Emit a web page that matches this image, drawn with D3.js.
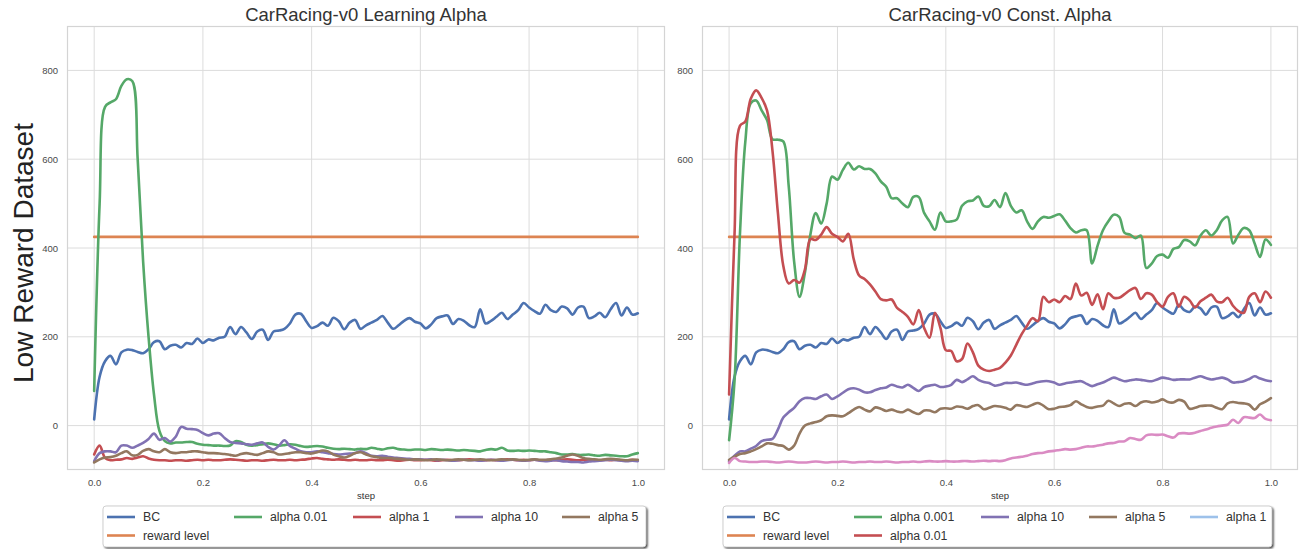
<!DOCTYPE html>
<html>
<head>
<meta charset="utf-8">
<script src="https://cdn.jsdelivr.net/npm/d3@7"></script>
<style>
  html, body { margin: 0; padding: 0; background: #ffffff; }
  svg { display: block; }
  text { font-family: "Liberation Sans", Arial, sans-serif; }
</style>
</head>
<body>
<svg id="chart" width="1307" height="549"></svg>
<script>
// ---- data ---------------------------------------------------------------
// normalised training step, sampled every 0.01
const steps = d3.range(0, 101).map(i => i / 100);

const yTicks = [0, 200, 400, 600, 800];
const xTicks = [0, 0.2, 0.4, 0.6, 0.8, 1.0];

const rewardLevel = 425;

// behaviour cloning baseline (same run in both panels)
const bc = [14,110,145,157,138,165,171,170,166,163,172,188,190,172,180,182,176,186,184,196,
  186,194,192,198,200,222,206,222,210,195,212,216,193,212,214,218,230,250,252,235,
  220,224,232,225,243,235,217,232,238,218,226,232,238,247,232,218,226,236,242,234,
  230,219,228,242,246,248,229,240,236,226,222,262,230,236,245,254,240,250,260,276,
  266,258,252,272,260,256,268,264,250,266,268,242,246,254,244,262,276,248,266,250,253];

// learning-alpha runs
const learnAlpha001 = [78,500,718,728,735,765,780,776,600,370,200,70,-12,-35,-40,-38,-38,-37,-37,-41,
  -43,-44,-45,-45,-46,-45,-35,-37,-43,-45,-44,-42,-40,-42,-45,-44,-42,-43,-46,-48,
  -47,-46,-47,-50,-52,-53,-52,-53,-54,-52,-53,-50,-52,-54,-51,-50,-53,-54,-55,-54,
  -54,-55,-53,-54,-55,-54,-55,-56,-55,-56,-57,-58,-55,-53,-54,-50,-56,-57,-56,-57,
  -56,-57,-58,-58,-60,-62,-65,-65,-64,-66,-66,-65,-67,-68,-66,-67,-68,-69,-69,-65,-62];
const learnAlpha1 = [-65,-45,-73,-78,-77,-76,-73,-75,-72,-69,-74,-77,-78,-78,-79,-78,-78,-79,-78,-77,
  -78,-77,-78,-78,-77,-76,-77,-78,-79,-78,-78,-79,-78,-77,-78,-78,-77,-78,-77,-76,
  -74,-73,-75,-76,-77,-76,-77,-78,-77,-78,-78,-77,-78,-78,-77,-78,-79,-78,-77,-78,
  -78,-77,-78,-79,-78,-77,-78,-78,-77,-76,-77,-78,-78,-77,-78,-77,-76,-77,-78,-77,
  -78,-77,-78,-78,-77,-78,-77,-76,-77,-78,-77,-78,-77,-78,-77,-78,-77,-78,-78,-77,-78];
const learnAlpha10 = [-80,-62,-58,-58,-60,-45,-45,-50,-45,-39,-30,-18,-32,-28,-36,-25,-3,-7,-8,-10,
  -17,-22,-18,-17,-28,-37,-39,-40,-42,-43,-40,-38,-48,-54,-45,-33,-46,-52,-58,-60,
  -60,-58,-60,-62,-64,-65,-64,-63,-62,-58,-62,-68,-69,-68,-70,-72,-73,-74,-75,-76,
  -76,-77,-76,-78,-77,-78,-79,-78,-77,-78,-78,-79,-78,-77,-78,-79,-78,-77,-78,-79,
  -78,-77,-79,-80,-79,-78,-80,-81,-82,-82,-83,-81,-80,-79,-78,-77,-78,-79,-80,-79,-80];
const learnAlpha5 = [-83,-76,-72,-71,-68,-62,-58,-67,-66,-57,-53,-58,-60,-53,-60,-62,-60,-60,-58,-58,
  -60,-62,-62,-63,-64,-66,-68,-64,-62,-64,-66,-62,-58,-60,-65,-64,-62,-60,-60,-62,
  -63,-60,-56,-58,-65,-69,-72,-68,-62,-60,-65,-69,-71,-73,-73,-74,-75,-76,-77,-76,
  -77,-78,-77,-76,-77,-78,-77,-76,-77,-78,-77,-76,-77,-78,-77,-76,-77,-76,-77,-78,
  -77,-76,-77,-77,-76,-74,-72,-68,-65,-68,-73,-75,-76,-77,-76,-75,-76,-77,-78,-77,-77];

// constant-alpha runs
const constAlpha0001 = [-33,100,430,640,726,732,710,688,645,644,640,540,370,290,345,430,479,455,500,561,
  554,576,592,577,584,578,578,568,550,538,512,512,500,492,515,515,479,460,441,480,
  460,460,464,495,505,507,516,495,494,508,492,524,495,480,485,460,443,460,470,468,
  472,476,462,445,435,440,440,365,405,440,460,475,470,434,430,422,428,355,365,382,
  385,378,398,402,418,415,406,428,440,428,440,462,470,410,430,445,440,410,380,419,407];
const constAlpha001 = [70,430,675,685,736,755,738,710,620,480,360,320,328,322,352,420,418,430,447,432,
  425,415,432,375,338,330,318,302,285,282,284,265,256,245,228,260,220,198,254,220,
  170,168,145,150,185,165,135,126,123,126,130,142,158,182,206,225,242,235,290,278,
  284,278,292,285,320,293,299,272,296,262,298,288,288,296,305,310,285,298,295,278,
  268,290,298,268,290,282,266,280,288,295,280,278,288,270,258,254,290,298,278,302,288];
const constAlpha10 = [-80,-68,-58,-58,-52,-46,-35,-32,-30,-9,18,30,40,55,62,62,60,66,70,60,
  66,74,82,84,81,75,75,80,84,86,92,88,86,92,85,78,87,90,92,87,
  88,92,103,98,104,111,103,98,96,90,92,96,96,97,94,92,95,98,100,100,
  97,92,95,97,99,100,94,89,93,97,103,108,104,100,102,104,103,101,100,104,
  108,106,103,104,104,104,108,111,107,104,106,108,104,97,98,100,105,111,106,102,100];
const constAlpha5 = [-77,-70,-64,-62,-58,-53,-47,-40,-41,-44,-46,-54,-45,-18,0,5,8,12,21,23,
  22,21,28,36,42,36,32,41,38,33,36,32,30,36,30,26,34,34,30,38,
  39,38,43,42,38,44,46,37,40,44,43,40,36,46,44,42,47,51,45,37,
  38,42,43,46,55,48,42,40,43,45,56,50,44,49,50,44,52,55,52,54,
  59,53,52,58,54,38,40,44,45,45,40,37,50,53,51,50,47,36,48,54,62];
const constAlpha1 = [-84,-73,-80,-81,-82,-82,-81,-81,-82,-83,-82,-81,-82,-83,-83,-82,-81,-82,-83,-82,
  -82,-81,-82,-83,-82,-82,-81,-82,-82,-81,-82,-83,-82,-82,-81,-82,-81,-80,-81,-81,
  -80,-81,-81,-80,-80,-81,-80,-79,-80,-79,-80,-78,-74,-72,-70,-68,-64,-62,-61,-58,
  -57,-55,-53,-54,-53,-50,-47,-47,-45,-43,-40,-39,-36,-35,-28,-30,-32,-22,-20,-21,
  -20,-24,-27,-18,-17,-18,-16,-12,-9,-5,-2,0,2,13,6,19,18,17,25,15,12];

const colors = {
  bc: "#4C72B0", reward: "#DD8452", green: "#55A868", red: "#C44E52",
  purple: "#8172B3", brown: "#937860", pink: "#DA8BC3", lightBlue: "#9DC1EA"
};

// ---- panels -------------------------------------------------------------
const panels = [
  {
    title: "CarRacing-v0 Learning Alpha",
    box: { left: 67, right: 665, top: 26, bottom: 470 },
    series: [
      { values: bc, color: colors.bc },
      { values: steps.map(() => rewardLevel), color: colors.reward },
      { values: learnAlpha001, color: colors.green },
      { values: learnAlpha1, color: colors.red },
      { values: learnAlpha10, color: colors.purple },
      { values: learnAlpha5, color: colors.brown }
    ],
    legend: {
      box: { x: 103, y: 506, w: 543, h: 41 },
      items: [
        { label: "BC", color: colors.bc, x: 107, row: 0 },
        { label: "reward level", color: colors.reward, x: 107, row: 1 },
        { label: "alpha 0.01", color: colors.green, x: 234, row: 0 },
        { label: "alpha 1", color: colors.red, x: 353, row: 0 },
        { label: "alpha 10", color: colors.purple, x: 455, row: 0 },
        { label: "alpha 5", color: colors.brown, x: 562, row: 0 }
      ]
    }
  },
  {
    title: "CarRacing-v0 Const. Alpha",
    box: { left: 702, right: 1298, top: 26, bottom: 470 },
    series: [
      { values: bc, color: colors.bc },
      { values: steps.map(() => rewardLevel), color: colors.reward },
      { values: constAlpha0001, color: colors.green },
      { values: constAlpha001, color: colors.red },
      { values: constAlpha10, color: colors.purple },
      { values: constAlpha5, color: colors.brown },
      { values: constAlpha1, color: colors.pink }
    ],
    legend: {
      box: { x: 723, y: 506, w: 549, h: 41 },
      items: [
        { label: "BC", color: colors.bc, x: 727, row: 0 },
        { label: "reward level", color: colors.reward, x: 727, row: 1 },
        { label: "alpha 0.001", color: colors.green, x: 854, row: 0 },
        { label: "alpha 0.01", color: colors.red, x: 854, row: 1 },
        { label: "alpha 10", color: colors.purple, x: 981, row: 0 },
        { label: "alpha 5", color: colors.brown, x: 1089, row: 0 },
        { label: "alpha 1", color: colors.lightBlue, x: 1190, row: 0 }
      ]
    }
  }
];

const svg = d3.select("#chart");

const defs = svg.append("defs");
const shadow = defs.append("filter").attr("id", "legendShadow")
  .attr("x", "-5%").attr("y", "-20%").attr("width", "110%").attr("height", "150%");
shadow.append("feGaussianBlur").attr("in", "SourceAlpha").attr("stdDeviation", 1.2);

panels.forEach((p, pi) => {
  const b = p.box;
  const x = d3.scaleLinear().domain([-0.05, 1.05]).range([b.left, b.right]);
  const y = d3.scaleLinear().domain([-100, 900]).range([b.bottom, b.top]);
  const g = svg.append("g");

  const clipId = "clip" + pi;
  defs.append("clipPath").attr("id", clipId).append("rect")
    .attr("x", b.left).attr("y", b.top)
    .attr("width", b.right - b.left).attr("height", b.bottom - b.top);

  // grid
  g.append("g").selectAll("line").data(xTicks).join("line")
    .attr("x1", d => x(d)).attr("x2", d => x(d))
    .attr("y1", b.top).attr("y2", b.bottom)
    .attr("stroke", "#dcdcdc").attr("stroke-width", 1);
  g.append("g").selectAll("line").data(yTicks).join("line")
    .attr("x1", b.left).attr("x2", b.right)
    .attr("y1", d => y(d)).attr("y2", d => y(d))
    .attr("stroke", "#dcdcdc").attr("stroke-width", 1);

  // axes (labels only, no tick marks)
  const xAxis = d3.axisBottom(x).tickValues(xTicks).tickFormat(d3.format(".1f")).tickSize(0).tickPadding(9);
  const yAxis = d3.axisLeft(y).tickValues(yTicks).tickFormat(d3.format("d")).tickSize(0).tickPadding(9);
  const xa = g.append("g").attr("transform", `translate(0,${b.bottom})`).call(xAxis);
  const ya = g.append("g").attr("transform", `translate(${b.left},0)`).call(yAxis);
  [xa, ya].forEach(a => {
    a.select(".domain").remove();
    a.selectAll("text").attr("fill", "#4a4a4a").attr("font-size", 9.5)
      .attr("font-family", "'Liberation Sans', Arial, sans-serif");
  });

  // frame
  g.append("rect")
    .attr("x", b.left + 0.5).attr("y", b.top + 0.5)
    .attr("width", b.right - b.left - 1).attr("height", b.bottom - b.top - 1)
    .attr("fill", "none").attr("stroke", "#d4d4d4").attr("stroke-width", 1.2);

  // series
  const line = d3.line()
    .x((d, i) => x(steps[i]))
    .y(d => y(d))
    .curve(d3.curveCatmullRom.alpha(0.5));
  g.append("g").attr("clip-path", `url(#${clipId})`)
    .selectAll("path").data(p.series).join("path")
    .attr("d", s => line(s.values))
    .attr("fill", "none")
    .attr("stroke", s => s.color)
    .attr("stroke-width", 2.6)
    .attr("stroke-linejoin", "round")
    .attr("stroke-linecap", "round");

  // title and x label
  const cx = (b.left + b.right) / 2;
  g.append("text").attr("x", cx).attr("y", 21).attr("text-anchor", "middle")
    .attr("font-size", 18.5).attr("fill", "#333").text(p.title);
  g.append("text").attr("x", cx).attr("y", 499).attr("text-anchor", "middle")
    .attr("font-size", 9.5).attr("fill", "#333").text("step");

  // legend
  const L = p.legend;
  const lg = g.append("g");
  lg.append("rect")
    .attr("x", L.box.x + 1.5).attr("y", L.box.y + 1.5)
    .attr("width", L.box.w).attr("height", L.box.h).attr("rx", 3)
    .attr("fill", "#9a9a9a").attr("opacity", 0.8).attr("filter", "url(#legendShadow)");
  lg.append("rect")
    .attr("x", L.box.x).attr("y", L.box.y)
    .attr("width", L.box.w).attr("height", L.box.h).attr("rx", 3)
    .attr("fill", "#ffffff").attr("stroke", "#d0d0d0").attr("stroke-width", 1);
  const rowY = [517, 535.5];
  const item = lg.selectAll("g.item").data(L.items).join("g").attr("class", "item");
  item.append("line")
    .attr("x1", d => d.x).attr("x2", d => d.x + 28)
    .attr("y1", d => rowY[d.row]).attr("y2", d => rowY[d.row])
    .attr("stroke", d => d.color).attr("stroke-width", 2.6);
  item.append("text")
    .attr("x", d => d.x + 36).attr("y", d => rowY[d.row] + 4.2)
    .attr("font-size", 12.3).attr("fill", "#333").text(d => d.label);
});

// shared y label
svg.append("text")
  .attr("transform", "translate(33,253) rotate(-90)")
  .attr("text-anchor", "middle").attr("font-size", 28).attr("fill", "#222")
  .text("Low Reward Dataset");
</script>
</body>
</html>
